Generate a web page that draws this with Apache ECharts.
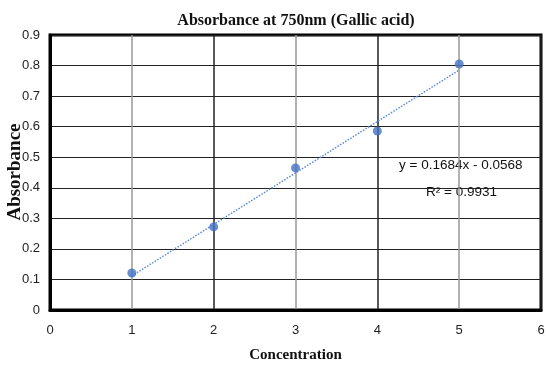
<!DOCTYPE html>
<html>
<head>
<meta charset="utf-8">
<script src="https://cdn.jsdelivr.net/npm/echarts@6/dist/echarts.min.js"></script>
<style>html,body{margin:0;padding:0;background:#fff}#chart{width:546px;height:366px}</style>
</head>
<body>
<div id="chart"></div>
<script>
// measured points
const concentration = [1, 2, 3, 4, 5];
const absorbance = [0.121, 0.272, 0.465, 0.586, 0.805];
// linear trendline endpoints (y = 0.1684x - 0.0568)
const trendX = [1, 5];
const trendY = [0.1116, 0.7852];
const eqText = 'y = 0.1684x - 0.0568';
const r2Text = 'R² = 0.9931';
const yTitle = 'Absorbance';

let chartDom = document.getElementById('chart');
let myChart = echarts.init(chartDom);
let option;

const tickFont = {fontFamily: 'Liberation Sans, sans-serif', fontSize: 13, color: '#222'};

option = {
    backgroundColor: '#fff',
    animation: false,
    title: {
        text: 'Absorbance at 750nm (Gallic acid)',
        left: 291,
        textAlign: 'center',
        top: 8,
        textStyle: {fontFamily: 'Liberation Serif, serif', fontWeight: 'bold', fontSize: 16, color: '#111'}
    },
    grid: {
        left: 50,
        right: 5,
        top: 35,
        bottom: 56,
        containLabel: false,
        outerBoundsMode: 'none',
        show: true,
        borderColor: '#000',
        borderWidth: 3
    },
    xAxis: {
        type: 'value',
        min: 0,
        max: 6,
        interval: 1,
        name: 'Concentration',
        nameLocation: 'middle',
        nameGap: 38,
        nameTextStyle: {fontFamily: 'Liberation Serif, serif', fontWeight: 'bold', fontSize: 15, color: '#111'},
        axisLine: {show: true, lineStyle: {color: '#000', width: 3}},
        axisTick: {show: false},
        axisLabel: Object.assign({margin: 14}, tickFont),
        splitLine: {show: true, lineStyle: {color: ['#222', '#999'], width: 1.5}}
    },
    yAxis: {
        type: 'value',
        min: 0,
        max: 0.9,
        interval: 0.1,
        axisLine: {show: true, lineStyle: {color: '#000', width: 3}},
        axisTick: {show: false},
        axisLabel: Object.assign({margin: 10}, tickFont),
        splitLine: {show: true, lineStyle: {color: '#222', width: 1.2}}
    },
    series: [{
        name: 'Trend',
        type: 'line',
        data: trendX.map((x, i) => [x, trendY[i]]),
        showSymbol: false,
        lineStyle: {color: '#5b8bd8', width: 1.5, type: 'dotted'},
        z: 3
    }, {
        name: 'Absorbance',
        type: 'scatter',
        data: concentration.map((x, i) => [x, absorbance[i]]),
        symbolSize: 9,
        itemStyle: {color: '#4472c4'},
        z: 4
    }],
    graphic: [{
        type: 'text',
        x: 15,
        y: 172,
        rotation: Math.PI / 2,
        style: {
            text: yTitle,
            font: 'bold 19px "Liberation Serif", serif',
            fill: '#111',
            align: 'center',
            verticalAlign: 'middle'
        }
    }, {
        type: 'text',
        left: 399,
        top: 158,
        style: {text: eqText, font: '13.5px "Liberation Sans", sans-serif', fill: '#111'}
    }, {
        type: 'text',
        left: 426,
        top: 185,
        style: {text: r2Text, font: '13.5px "Liberation Sans", sans-serif', fill: '#111'}
    }]
};

option && myChart.setOption(option);
</script>
</body>
</html>
